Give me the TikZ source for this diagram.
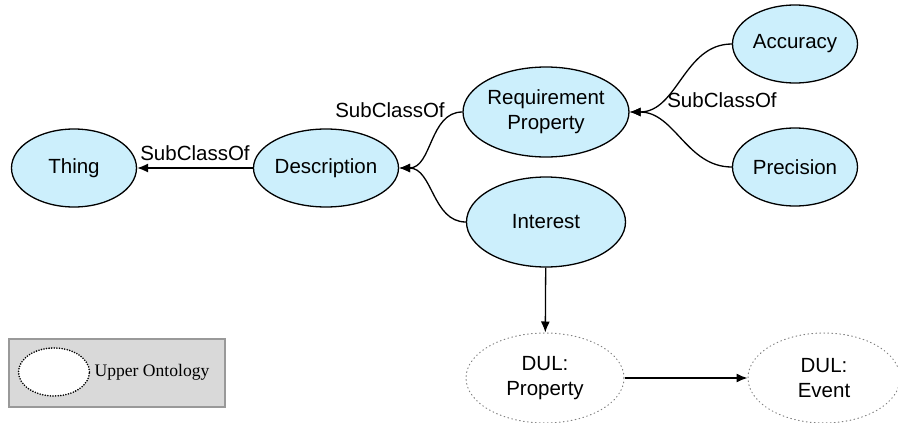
\documentclass[tikz,border=0pt]{standalone}
\usepackage{fontspec}
\setmainfont{Liberation Sans}
\newfontfamily\legendfont{Liberation Serif}
\usetikzlibrary{shapes.geometric,arrows.meta}

\begin{document}
\begin{tikzpicture}[x=1pt,y=-1pt]
% This sets the size of the page.
\useasboundingbox (0,0) rectangle (898,423);

% This determines how the classes will look.
\tikzstyle{class}=[ellipse,draw,line width=1.3pt,fill=cyan!20,inner sep=0pt,
minimum width=125pt,minimum height=78pt,align=center,
font=\fontsize{20.5}{25}\selectfont]
\tikzstyle{bigclass}=[class,minimum width=159pt,minimum height=90pt]
\tikzstyle{upper}=[ellipse,draw=gray,line width=1pt,dash pattern=on 0.8pt off 3.2pt,
line cap=round,inner sep=0pt,minimum width=158pt,minimum height=90pt,align=center,
font=\fontsize{20.5}{25}\selectfont]
\tikzstyle{rel}=[line width=1.3pt,-{Latex[length=11pt,width=9pt]}]
\tikzstyle{lbl}=[font=\fontsize{20.5}{25}\selectfont,inner sep=2pt]

% This draws the classes.
\node[class] (thing) at (74,168) {Thing};
\node[class] (desc) at (326,168) {Description};
\node[bigclass] (req) at (546,112) {Requirement\\Property};
\node[bigclass] (interest) at (546,222) {Interest};
\node[class] (acc) at (795,44) {Accuracy};
\node[class] (prec) at (795,167) {Precision};

% This draws the upper ontology classes.
\node[upper] (prop) at (545,378) {DUL:\\Property};
\node[upper,minimum width=152pt] (event) at (824,378) {DUL:\\Event};

% This draws the relations.
\draw[rel] (desc) -- (thing) node [lbl,midway,above,yshift=5pt] {SubClassOf};
\draw[rel] (req.west) to[out=180,in=0] (desc.east);
\draw[rel] (interest.west) to[out=180,in=0] (desc.east);
\draw[rel] (acc.west) to[out=180,in=0] (req.east);
\draw[rel] (prec.west) to[out=180,in=0] (req.east);
\draw[rel] (interest) -- (prop);
\draw[rel] (prop) -- (event);

\node[lbl] (sub2) at (390,110) {SubClassOf};
\node[lbl] (sub3) at (722,100) {SubClassOf};

% This draws the legend.
\node[draw=gray!80,line width=1.2pt,fill=gray!30,minimum width=216pt,
minimum height=68pt] (legend) at (117,373) {};
\node[ellipse,draw,fill=white,line width=1.8pt,dash pattern=on 0pt off 2.6pt,
line cap=round,minimum width=71pt,minimum height=48pt] (key) at (54,372) {};
\node[font=\legendfont\fontsize{17.6}{20}\selectfont,anchor=west,inner sep=0pt,
xshift=4pt] (keytext) at (key.east) {Upper Ontology};
\end{tikzpicture}
\end{document}
